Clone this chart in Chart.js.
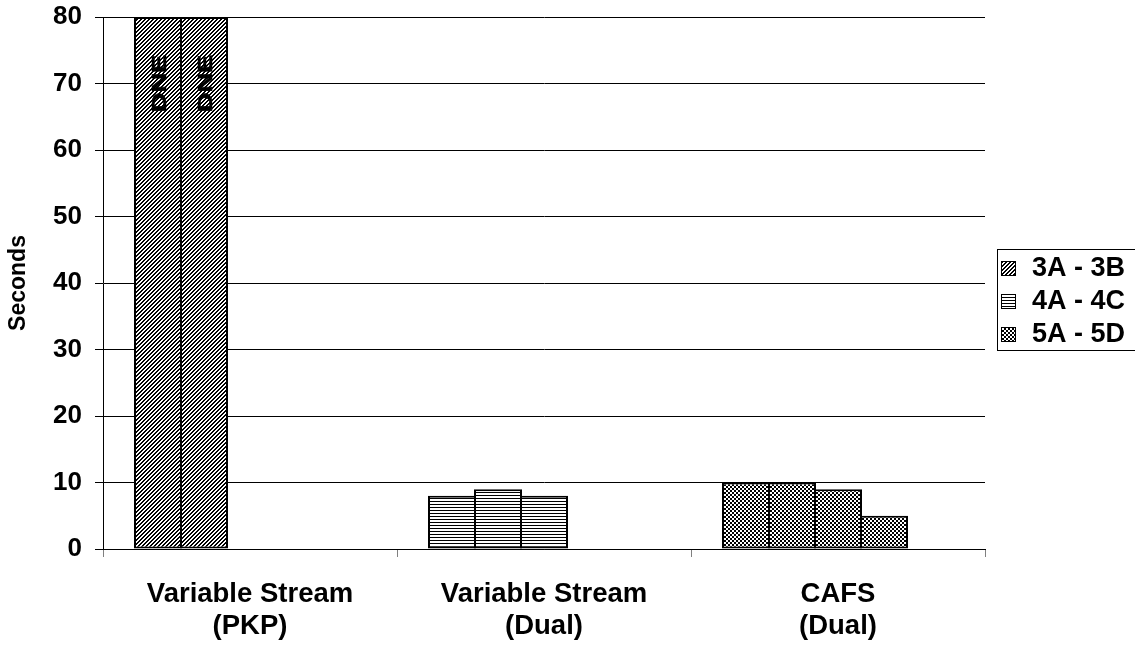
<!DOCTYPE html>
<html>
<head>
<meta charset="utf-8">
<script src="https://cdn.jsdelivr.net/npm/chart.js@4"></script>
<style>
  html, body { margin: 0; padding: 0; background: #fff; }
</style>
</head>
<body>
<canvas id="chart" width="1135" height="651"></canvas>
<script>
const categories = [['Variable Stream', '(PKP)'], ['Variable Stream', '(Dual)'], ['CAFS', '(Dual)']];
const seriesNames = ['3A - 3B', '4A - 4C', '5A - 5D'];
// bars of each group, left to right
const values3A = [80, 80];
const values4A = [8, 9, 8];
const values5A = [10, 10, 9, 5];
const barNotes = ['DNE', 'DNE'];   // written on the two clipped PKP bars
const noteValue = 70;
const yTicks = [0, 10, 20, 30, 40, 50, 60, 70, 80];
const slotCount = 5;               // Excel keeps 5 bar slots in every category

const FONT = '"Liberation Sans", Arial, sans-serif';

function makePattern(kind) {
    const c = document.createElement('canvas');
    const ctx = c.getContext('2d');
    c.width = 4; c.height = kind === 'horiz' ? 3 : 4;
    ctx.fillStyle = '#fff';
    ctx.fillRect(0, 0, c.width, c.height);
    ctx.fillStyle = '#000';
    if (kind === 'diag') {
        for (let i = 0; i < 4; i++) {
            ctx.fillRect(3 - i, i, 1, 1);
            ctx.fillRect((4 - i) % 4, i, 1, 1);
        }
    } else if (kind === 'horiz') {
        ctx.fillRect(0, 0, 4, 1);
    } else {
        ctx.fillRect(0, 0, 2, 2);
        ctx.fillRect(2, 2, 2, 2);
    }
    return ctx.createPattern(c, 'repeat');
}

const patterns = [makePattern('diag'), makePattern('horiz'), makePattern('check')];
const groups = [values3A, values4A, values5A];

const datasets = [];
for (let s = 0; s < slotCount; s++) {
    datasets.push({
        label: 'slot ' + (s + 1),
        data: groups.map(g => (g[s] === undefined ? null : g[s])),
        backgroundColor: patterns,
        borderColor: '#000',
        borderWidth: 2,
        borderSkipped: false,
        barPercentage: 48 / 46,
        categoryPercentage: 230 / 294
    });
}

const notesPlugin = {
    id: 'notes',
    afterDatasetsDraw(chart) {
        const ctx = chart.ctx;
        const y = chart.scales.y.getPixelForValue(noteValue);
        ctx.save();
        ctx.fillStyle = '#000';
        ctx.strokeStyle = '#000';
        ctx.lineWidth = 0.6;
        ctx.font = 'bold 21px ' + FONT;
        ctx.textAlign = 'center';
        ctx.textBaseline = 'middle';
        barNotes.forEach((txt, i) => {
            const bar = chart.getDatasetMeta(i).data[0];
            ctx.save();
            ctx.translate(bar.x + 1, y);
            ctx.rotate(-Math.PI / 2);
            ctx.scale(1.3, 1);
            ctx.fillText(txt, 0, 1);
            ctx.strokeText(txt, 0, 1);
            ctx.restore();
        });
        ctx.restore();
    }
};

const legendPlugin = {
    id: 'boxLegend',
    afterDraw(chart) {
        const ctx = chart.ctx;
        ctx.save();
        ctx.strokeStyle = '#000';
        ctx.lineWidth = 1;
        ctx.strokeRect(997.5, 249.5, 150, 101);
        ctx.font = 'bold 27px ' + FONT;
        ctx.textBaseline = 'middle';
        seriesNames.forEach((name, i) => {
            const cy = 268 + i * 33;
            ctx.fillStyle = patterns[i];
            ctx.fillRect(1001, cy - 7, 15, 15);
            ctx.strokeRect(1001.5, cy - 6.5, 14, 14);
            ctx.fillStyle = '#000';
            ctx.fillText(name, 1032, cy + 1);
        });
        ctx.restore();
    }
};

new Chart(document.getElementById('chart'), {
    type: 'bar',
    data: { labels: categories, datasets: datasets },
    options: {
        responsive: false,
        animation: false,
        layout: { padding: { top: 17, right: 150, left: 0, bottom: 0 } },
        plugins: {
            legend: { display: false },
            tooltip: { enabled: false }
        },
        scales: {
            x: {
                grid: { offset: true, drawOnChartArea: false, tickLength: 8, color: '#808080' },
                border: { color: '#000', width: 1 },
                ticks: {
                    color: '#000',
                    padding: 21,
                    maxRotation: 0,
                    font: { family: FONT, size: 27.5, weight: 'bold', lineHeight: 1.18 }
                },
                afterFit(scale) {
                    scale.height = 102;
                    scale.paddingLeft = 0;
                    scale.paddingRight = 0;
                }
            },
            y: {
                min: 0,
                max: 80,
                grid: { color: '#000', tickLength: 8 },
                border: { color: '#000', width: 1 },
                ticks: {
                    color: '#000',
                    padding: 13,
                    font: { family: FONT, size: 26, weight: 'bold' }
                },
                afterBuildTicks(scale) { scale.ticks = yTicks.map(v => ({ value: v })); },
                title: {
                    display: true,
                    text: 'Seconds',
                    color: '#000',
                    padding: { top: 5, bottom: 0 },
                    font: { family: FONT, size: 23, weight: 'bold' }
                },
                afterFit(scale) {
                    scale.width = 103;
                    scale.paddingTop = 0;
                    scale.paddingBottom = 0;
                }
            }
        }
    },
    plugins: [notesPlugin, legendPlugin]
});
</script>
</body>
</html>
